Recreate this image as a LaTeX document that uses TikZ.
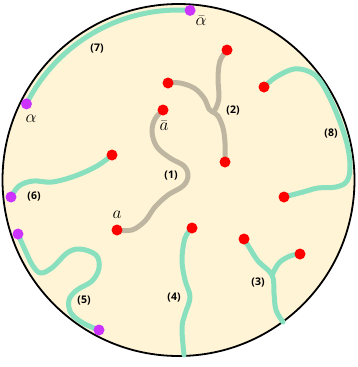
\documentclass[tikz,border=0pt]{standalone}
\usepackage{fontspec}
\newfontfamily\labfont{Open Sans}
\definecolor{creamc}{HTML}{FFF4D6}
\definecolor{tealc}{HTML}{88E0BF}
\definecolor{greyc}{HTML}{BEB6A0}
\definecolor{magc}{HTML}{CC33FF}
\definecolor{redc}{HTML}{FF0000}
\tikzset{
  tline/.style={draw=tealc, line width=5pt, line cap=round, line join=round},
  gline/.style={draw=greyc, line width=5pt, line cap=round, line join=round},
  rdot/.style={circle, inner sep=0pt, minimum size=11pt},
  mdot/.style={circle, inner sep=0pt, minimum size=11pt},
  num/.style={font=\labfont\bfseries\fontsize{10.5}{12}\selectfont, inner sep=0pt},
  sym/.style={inner sep=0pt, font=\LARGE}
}
\begin{document}
\begin{tikzpicture}[x=1pt,y=-1pt]
\useasboundingbox (0,0) rectangle (357,367);
\coordinate (C) at (178.5,180);
\fill[creamc] (C) circle[radius=176pt];
\draw[line width=1.8pt] (C) circle[radius=176pt];

% dots (positions)
\node[mdot] (m7a) at ([shift={(153.4:170pt)}]C) {};
\node[mdot] (m7b) at ([shift={(86.1:170pt)}]C) {};
\node[mdot] (m6) at (11,197) {};
\node[mdot] (m5a) at (18,234) {};
\node[mdot] (m5b) at (99,330) {};
\node[rdot] (r6) at (112,155) {};
\node[rdot] (r1a) at (117,230) {};
\node[rdot] (r1b) at (163,110) {};
\node[rdot] (r2a) at (168,83) {};
\node[rdot] (r2b) at (227,50) {};
\node[rdot] (r2c) at (225,162) {};
\node[rdot] (r8a) at (264,87) {};
\node[rdot] (r8b) at (284,197) {};
\node[rdot] (r4) at (192,228) {};
\node[rdot] (r3a) at (244,239) {};
\node[rdot] (r3b) at (300,254) {};
\coordinate (j2) at (213,112);
\coordinate (j3) at (272,275);
\coordinate (e4) at (184,355);
\coordinate (e3) at (283,322);

% curves
\draw[tline] (m7a.center) arc[start angle=153.4, end angle=86.1, radius=170pt];
\draw[tline] plot[smooth, tension=0.6] coordinates {(m6.center) (19,186) (33,181) (52,182) (75,176) (97,166) (r6.center)};
\draw[tline] plot[smooth, tension=0.6] coordinates {(m5a.center) (25,250) (33,266) (41,273) (53,267) (67,253) (80,249) (96,255) (99,268) (92,281) (77,290) (69,300) (71,313) (83,323) (m5b.center)};
\draw[tline] plot[smooth, tension=0.6] coordinates {(r4.center) (185,238) (182,260) (185,280) (190,297) (185,314) (182,328) (e4)};
\draw[tline] plot[smooth, tension=0.6] coordinates {(r3a.center) (249,247) (258,261) (j3) (274,293) (276,310) (e3)};
\draw[tline] plot[smooth, tension=0.6] coordinates {(r3b.center) (290,256) (279,263) (j3)};
\draw[tline] plot[smooth, tension=0.6] coordinates {(r8a.center) (276,77) (294,69) (310,72) (321,82) (334,107) (346,140) (350,165) (347,181) (336,187) (318,188) (303,192) (r8b.center)};
\draw[gline] plot[smooth, tension=0.6] coordinates {(r1b.center) (155,119) (152,132) (157,147) (170,158) (184,166) (188,176) (183,186) (168,195) (155,207) (145,221) (132,230) (r1a.center)};
\draw[gline] plot[smooth, tension=0.6] coordinates {(r2a.center) (180,83) (194,88) (204,98) (209,109) (j2)};
\draw[gline] plot[smooth, tension=0.6] coordinates {(r2b.center) (220,61) (218,78) (219,97) (216,108) (j2)};
\draw[gline] plot[smooth, tension=0.6] coordinates {(j2) (218,116) (223,128) (225,143) (r2c.center)};

% dots on top
\foreach \n in {r6,r1a,r1b,r2a,r2b,r2c,r8a,r8b,r4,r3a,r3b}
  \fill[redc] (\n.center) circle[radius=5.5pt];
\foreach \n in {m7a,m7b,m6,m5a,m5b}
  \fill[magc] (\n.center) circle[radius=5.5pt];

% labels
\node[num] (l7) at (97,49) {(7)};
\node[num] (l2) at (233,111) {(2)};
\node[num] (l8) at (331,134) {(8)};
\node[num] (l1) at (171,176) {(1)};
\node[num] (l6) at (34,197) {(6)};
\node[num] (l5) at (84,301) {(5)};
\node[num] (l4) at (174,298) {(4)};
\node[num] (l3) at (258,283) {(3)};
\node[sym] (sa) at (31,119) {$\alpha$};
\node[sym] (sab) at (201,21) {$\bar{\alpha}$};
\node[sym] (sb) at (164,126) {$\bar{a}$};
\node[sym] (sc) at (117,215) {$a$};
\end{tikzpicture}
\end{document}
